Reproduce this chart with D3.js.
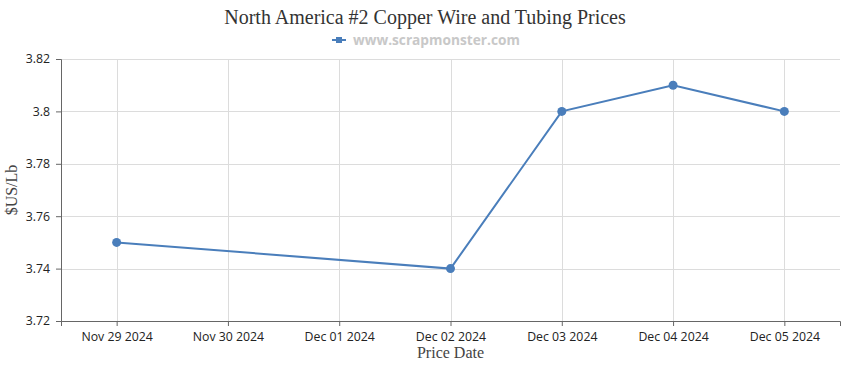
<!DOCTYPE html>
<html>
<head>
<meta charset="utf-8">
<script src="https://cdn.jsdelivr.net/npm/d3@7"></script>
<style>
  body { margin: 0; background: #fff; }
  .tick text { font-family: "Open Sans", "DejaVu Sans", sans-serif; font-size: 12.3px; fill: #222; }
</style>
</head>
<body>
<svg width="850" height="370"></svg>
<script>
var dates = ["Nov 29 2024", "Nov 30 2024", "Dec 01 2024", "Dec 02 2024", "Dec 03 2024", "Dec 04 2024", "Dec 05 2024"];
var priceDates = ["Nov 29 2024", "Dec 02 2024", "Dec 03 2024", "Dec 04 2024", "Dec 05 2024"];
var prices = [3.75, 3.74, 3.80, 3.81, 3.80];
var yTicks = [3.72, 3.74, 3.76, 3.78, 3.80, 3.82];

var svg = d3.select("svg"),
    margin = {top: 59, right: 10, bottom: 49, left: 61},
    width = +svg.attr("width") - margin.left - margin.right,
    height = +svg.attr("height") - margin.top - margin.bottom,
    g = svg.append("g").attr("transform", "translate(" + margin.left + "," + margin.top + ")");

var x = d3.scalePoint().domain(dates).range([0, width]).padding(0.5);
var y = d3.scaleLinear().domain([3.72, 3.82]).range([height, 0]);

var data = priceDates.map(function(d, i) { return {date: d, price: prices[i]}; });

// grid
g.append("g").selectAll("line.h")
  .data(yTicks).enter().append("line")
    .attr("x1", 0).attr("x2", width)
    .attr("y1", function(d) { return Math.round(y(d)) + 0.5; })
    .attr("y2", function(d) { return Math.round(y(d)) + 0.5; })
    .attr("stroke", "#dcdcdc");
g.append("g").selectAll("line.v")
  .data(dates).enter().append("line")
    .attr("x1", function(d) { return Math.round(x(d)) + 0.5; })
    .attr("x2", function(d) { return Math.round(x(d)) + 0.5; })
    .attr("y1", 0).attr("y2", height)
    .attr("stroke", "#dcdcdc");

// axes
var xAxis = g.append("g")
    .attr("transform", "translate(0," + height + ")")
    .call(d3.axisBottom(x).tickSizeOuter(0).tickSize(5).tickPadding(6));
var yAxis = g.append("g")
    .call(d3.axisLeft(y).tickValues(yTicks).tickFormat(d3.format("")).tickSizeOuter(0).tickSize(5).tickPadding(6));
[xAxis, yAxis].forEach(function(a) {
  a.select(".domain").attr("stroke", "#666");
  a.selectAll(".tick line").attr("stroke", "#666");
});

// line
var line = d3.line()
    .x(function(d) { return x(d.date); })
    .y(function(d) { return y(d.price); });

g.append("path")
    .datum(data)
    .attr("fill", "none")
    .attr("stroke", "#4a7ebb")
    .attr("stroke-width", 2)
    .attr("d", line);

g.selectAll(".dot")
  .data(data).enter().append("circle")
    .attr("cx", function(d) { return x(d.date); })
    .attr("cy", function(d) { return y(d.price); })
    .attr("r", 4.5)
    .attr("fill", "#4a7ebb");

// title
svg.append("text")
    .attr("x", 425).attr("y", 24)
    .attr("text-anchor", "middle")
    .style("font-family", "'Liberation Serif', 'Times New Roman', serif")
    .style("font-size", "20px")
    .style("fill", "#333")
    .text("North America #2 Copper Wire and Tubing Prices");

// legend
var lg = svg.append("g").attr("transform", "translate(332,40)");
lg.append("line").attr("x1", 0).attr("x2", 14).attr("y1", 0).attr("y2", 0)
    .attr("stroke", "#4a7ebb").attr("stroke-width", 2);
lg.append("rect").attr("x", 4).attr("y", -3).attr("width", 6).attr("height", 6).attr("fill", "#4a7ebb");
lg.append("text")
    .attr("x", 21).attr("y", 4.5)
    .style("font-family", "'Open Sans', 'DejaVu Sans', sans-serif")
    .style("font-size", "13.7px")
    .style("font-weight", "bold")
    .style("fill", "#c8c8c8")
    .text("www.scrapmonster.com");

// axis titles
svg.append("text")
    .attr("x", margin.left + width / 2).attr("y", 358)
    .attr("text-anchor", "middle")
    .style("font-family", "'Liberation Serif', 'Times New Roman', serif")
    .style("font-size", "16px")
    .style("fill", "#444")
    .text("Price Date");

svg.append("text")
    .attr("transform", "translate(17," + (margin.top + height / 2) + ") rotate(-90)")
    .attr("text-anchor", "middle")
    .style("font-family", "'Liberation Serif', 'Times New Roman', serif")
    .style("font-size", "16px")
    .style("fill", "#444")
    .text("$US/Lb");
</script>
</body>
</html>
